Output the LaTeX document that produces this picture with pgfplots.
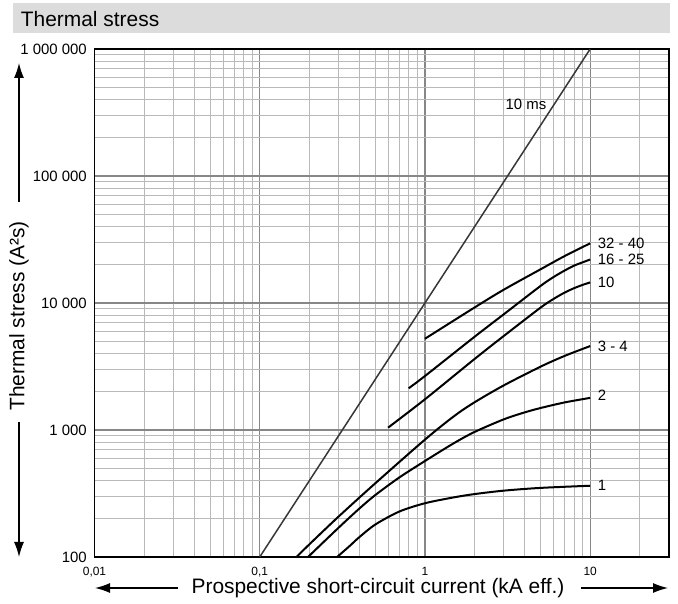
\documentclass[border=0pt]{standalone}
\usepackage{fontspec}
\setmainfont{Liberation Sans}
\usepackage{pgfplots}
\pgfplotsset{compat=1.18}
\usetikzlibrary{arrows.meta}
\definecolor{titlegray}{RGB}{220,220,220}
\definecolor{majgrid}{RGB}{135,135,135}
\definecolor{mingrid}{RGB}{185,185,185}
\definecolor{msline}{RGB}{55,55,55}
\begin{document}
\begin{tikzpicture}[x=1bp,y=1bp]
\useasboundingbox (0,0) rectangle (678,604);
\fill[titlegray] (12.7,570.7) rectangle (670,600.7);
\node[anchor=base west, inner sep=0pt, font=\fontsize{21}{25}\selectfont] at (20.7,577.3) {Thermal stress};
\begin{axis}[
  at={(94.5bp,47bp)}, anchor=south west,
  scale only axis, width=574.5bp, height=508bp,
  xmode=log, ymode=log,
  xmin=0.01, xmax=30, ymin=100, ymax=1000000,
  xtick={0.01,0.1,1,10}, xticklabels={{0,01},{0,1},1,10},
  ytick={100,1000,10000,100000,1000000},
  yticklabels={100,1 000,10 000,100 000,1 000 000},
  minor xtick={0.02,0.03,0.04,0.05,0.06,0.07,0.08,0.09,0.2,0.3,0.4,0.5,0.6,0.7,0.8,0.9,2,3,4,5,6,7,8,9,20},
  minor ytick={200,300,400,500,600,700,800,900,2000,3000,4000,5000,6000,7000,8000,9000,20000,30000,40000,50000,60000,70000,80000,90000,200000,300000,400000,500000,600000,700000,800000,900000},
  grid=both,
  major grid style={majgrid, line width=1.2bp},
  minor grid style={mingrid, line width=0.9bp},
  major tick length=0pt, minor tick length=0pt,
  axis line style={black, line width=1.8bp},
  /pgf/number format/assume math mode=true,
  xticklabel style={font=\fontsize{12}{14}\selectfont, inner sep=0pt, yshift=-10bp},
  yticklabel style={font=\fontsize{15}{18}\selectfont, inner sep=0pt, xshift=-7.5bp},
  every axis plot/.append style={line join=round},
]
% 10 ms
\addplot[msline, line width=1.5bp] coordinates {(0.1,100) (10,1000000)};
% 32 - 40
\addplot[black, line width=2bp, smooth] coordinates {(1,5230) (2,9230) (3,12730) (5,18400) (7,23400) (10,29500)};
% 16 - 25
\addplot[black, line width=2bp, smooth] coordinates {(0.797,2130) (1,2660) (2,5430) (3,8150) (5,13600) (6,16000) (7,18000) (8,19700) (9,20900) (10,22000)};
% 10
\addplot[black, line width=2bp, smooth] coordinates {(0.598,1043) (1,1745) (2,3630) (3,5500) (5,9180) (6,10760) (7,12070) (8,13090) (9,13880) (10,14520)};
% 3 - 4
\addplot[black, line width=2bp, smooth] coordinates {(0.167,100) (0.2,126) (0.3,208) (0.5,380) (1,840) (1.5,1285) (2,1655) (3,2245) (5,3150) (7,3830) (10,4580)};
% 2
\addplot[black, line width=2bp, smooth] coordinates {(0.196,100) (0.3,170) (0.4,240) (0.5,307) (0.7,423) (1,570) (1.5,789) (2,966) (3,1213) (4,1374) (5,1489) (7,1648) (10,1790)};
% 1
\addplot[black, line width=2bp, smooth] coordinates {(0.294,100) (0.35,122) (0.4,143) (0.5,180) (0.7,228) (1,265) (1.5,295) (2,313) (3,333) (5,350) (10,364)};
\begin{scope}[every node/.style={font=\fontsize{15}{18}\selectfont, inner sep=0pt, anchor=west, xshift=7.5bp}]
\node at (axis cs:10,29500) {32 - 40};
\node at (axis cs:10,22000) {16 - 25};
\node at (axis cs:10,14520) {10};
\node at (axis cs:10,4580) {3 - 4};
\node[yshift=3bp] at (axis cs:10,1790) {2};
\node at (axis cs:10,364) {1};
\end{scope}
\node[font=\fontsize{15}{18}\selectfont, inner sep=0pt, anchor=east] at (axis cs:5.44,369000) {10 ms};
\end{axis}
% x label with arrows
\node[font=\fontsize{21}{25}\selectfont, inner sep=0pt] (xl) at (378,16) {Prospective short-circuit current (kA eff.)};
\draw[line width=1.3bp, -{Latex[length=15bp,width=10bp]}] (178,16) -- (95,16);
\draw[line width=1.3bp, -{Latex[length=15bp,width=10bp]}] (581,16) -- (668,16);
% y label with arrows
\node[font=\fontsize{21}{25}\selectfont, inner sep=0pt, rotate=90] at (19,288) {Thermal stress (A²s)};
\draw[line width=1.3bp, -{Latex[length=15bp,width=10bp]}] (19,402) -- (19,541);
\draw[line width=1.3bp, -{Latex[length=15bp,width=10bp]}] (19,182) -- (19,47);
\end{tikzpicture}
\end{document}
